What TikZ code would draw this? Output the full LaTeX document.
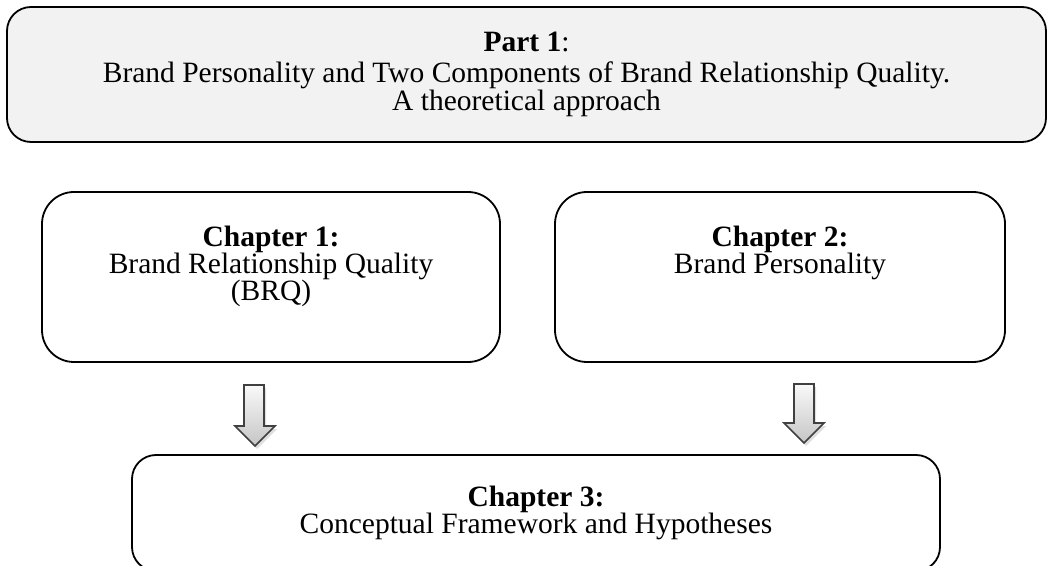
\documentclass[tikz,border=0pt]{standalone}
\usepackage{fontspec}
\setmainfont{Liberation Serif}
\usetikzlibrary{shadows}
\setlength{\lineskiplimit}{-20pt}

\begin{document}
\begin{tikzpicture}[x=0.5pt, y=-0.5pt,
    every node/.style={align=center, font=\fontsize{14.75}{13.5}\selectfont},
    part/.style={draw, line width=0.9pt, rounded corners=12pt, fill=gray!10,
      minimum width=519.5pt, minimum height=67.5pt},
    chapter/.style={draw, line width=0.9pt, rounded corners=16pt,
      minimum height=85pt},
    blockarrow/.style={draw=black!75, line width=0.8pt, line join=miter,
      top color=gray!5, bottom color=gray!45,
      drop shadow={opacity=0.25, shadow xshift=1pt, shadow yshift=-1.5pt}}]
    \useasboundingbox (0,0) rectangle (1048,566);

    \node[part, font=\fontsize{14.75}{14}\selectfont] (part1) at (526.5,74.5)
      {\textbf{Part 1}:\\[1.5pt]
       Brand Personality and Two Components of Brand Relationship Quality.\\
       A theoretical approach};

    \node[chapter, minimum width=229pt] (ch1) at (271,277)
      {\textbf{Chapter 1:}\\ Brand Relationship Quality\\ (BRQ)\\ \mbox{}};
    \node[chapter, minimum width=225pt] (ch2) at (780,277)
      {\textbf{Chapter 2:}\\ Brand Personality\\ \mbox{}\\ \mbox{}};
    \node[chapter, rounded corners=12pt, minimum width=404pt, minimum height=58pt]
      (ch3) at (536,513)
      {\textbf{Chapter 3:}\\ Conceptual Framework and Hypotheses};

    % block arrows between the chapters
    \draw[blockarrow] (244,385) -- ++(20,0) -- ++(0,41) -- ++(11,0)
      -- (255,446) -- (235,426) -- ++(9,0) -- cycle;
    \draw[blockarrow] (794,384) -- ++(20,0) -- ++(0,39) -- ++(10,0)
      -- (804,443) -- (784,423) -- ++(10,0) -- cycle;
\end{tikzpicture}
\end{document}
